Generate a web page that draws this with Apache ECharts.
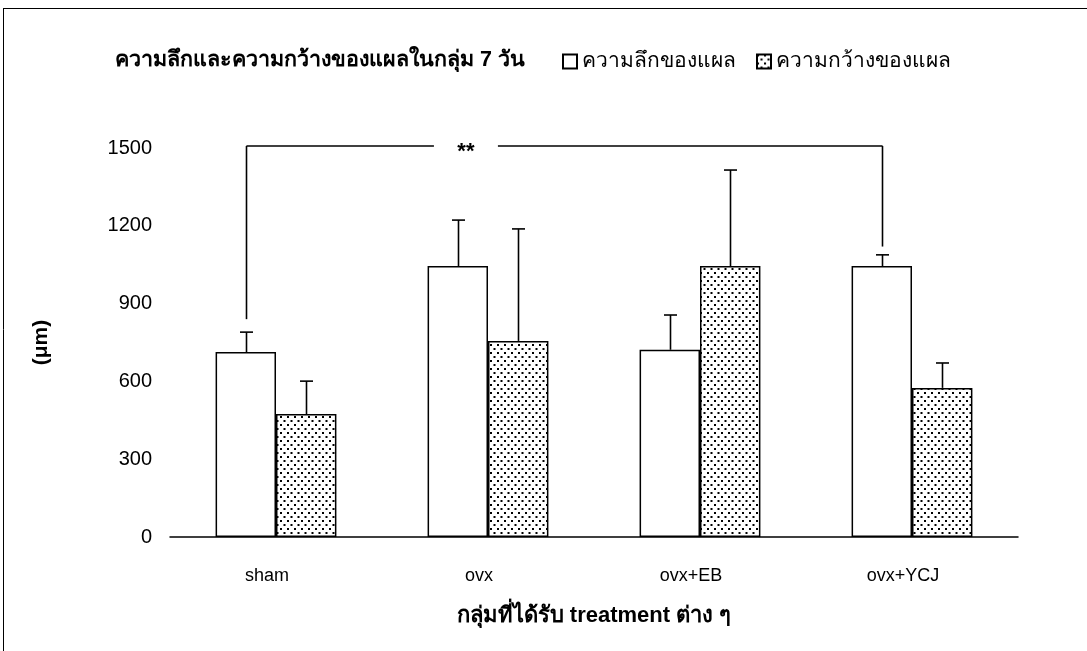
<!DOCTYPE html>
<html>
<head>
<meta charset="utf-8">
<script src="https://cdn.jsdelivr.net/npm/echarts@6/dist/echarts.min.js"></script>
<style>
  html, body { margin: 0; padding: 0; background: #fff; }
  #chart { width: 1087px; height: 651px; }
</style>
</head>
<body>
<div id="chart"></div>
<script>
// data
const categories = ["sham", "ovx", "ovx+EB", "ovx+YCJ"];
const depthName = "ความลึกของแผล";
const widthName = "ความกว้างของแผล";
const depthValues = [713, 1045, 722, 1045];
const depthErr = [77, 177, 134, 43];
const widthValues = [474, 756, 1045, 575];
const widthErr = [127, 432, 370, 96];
const yTicks = [0, 300, 600, 900, 1200, 1500];
// significance bracket: from sham depth to ovx+YCJ depth
const bracket = [0, 840, 3, 1120, 1508];
const bracketLabel = "**";

const FONT = "Liberation Sans, Arial, sans-serif";

// dotted fill like the print
function dotPattern() {
  const c = document.createElement("canvas");
  c.width = 7; c.height = 8;
  const ctx = c.getContext("2d");
  ctx.fillStyle = "#fff";
  ctx.fillRect(0, 0, 7, 8);
  ctx.fillStyle = "#000";
  ctx.fillRect(0, 0, 2, 2);
  ctx.fillRect(3.5, 4, 2, 2);
  return { image: c, repeat: "repeat" };
}
const dots = dotPattern();

const chart = echarts.init(document.getElementById("chart"));

const BAR_W = 0.285;

function errorBars(values, errs, side) {
  return {
    type: "custom",
    coordinateSystem: "cartesian2d",
    silent: true,
    z: 3,
    data: values.map((v, i) => [i, v, v + errs[i]]),
    encode: { x: 0, y: [1, 2] },
    renderItem: (params, api) => {
      const band = api.size([1, 0])[0];
      const off = side * band * BAR_W / 2;
      const p0 = api.coord([api.value(0), api.value(1)]);
      const p1 = api.coord([api.value(0), api.value(2)]);
      const x = Math.round(p0[0] + off) + 0.5;
      const style = { stroke: "#000", lineWidth: 1.6 };
      return {
        type: "group",
        children: [
          { type: "line", shape: { x1: x, y1: p0[1], x2: x, y2: p1[1] }, style },
          { type: "line", shape: { x1: x - 6.5, y1: p1[1], x2: x + 6.5, y2: p1[1] }, style }
        ]
      };
    }
  };
}

const option = {
  backgroundColor: "#fff",
  animation: false,
  textStyle: { fontFamily: FONT, color: "#000" },
  title: {
    text: "ความลึกและความกว้างของแผลในกลุ่ม 7 วัน",
    left: 110,
    top: 44,
    textStyle: { fontFamily: FONT, fontSize: 21.5, fontWeight: "bold", color: "#000" }
  },
  legend: {
    left: 557,
    top: 46,
    itemWidth: 14,
    itemHeight: 14,
    itemGap: 20,
    icon: "rect",
    textStyle: { fontFamily: FONT, fontSize: 21, color: "#000" },
    data: [depthName, widthName]
  },
  grid: { left: 170, right: 69, top: 148, bottom: 114 },
  xAxis: {
    type: "category",
    data: categories,
    axisLine: { lineStyle: { color: "#000", width: 1.5 } },
    axisTick: { show: false },
    axisLabel: { color: "#000", fontSize: 18, fontFamily: FONT, margin: 30, padding: [0, 18, 0, 0] },
    name: "กลุ่มที่ได้รับ treatment ต่าง ๆ",
    nameLocation: "middle",
    nameGap: 68,
    nameTextStyle: { color: "#000", fontSize: 22, fontWeight: "bold", fontFamily: FONT }
  },
  yAxis: {
    type: "value",
    min: yTicks[0],
    max: yTicks[yTicks.length - 1],
    interval: 300,
    axisLine: { show: false },
    axisTick: { show: false },
    splitLine: { show: false },
    axisLabel: { color: "#000", fontSize: 20, fontFamily: FONT, margin: 18, formatter: (v) => String(v) },
    name: "(μm)",
    nameLocation: "middle",
    nameGap: 118,
    nameRotate: 90,
    nameTextStyle: { color: "#000", fontSize: 21, fontWeight: "bold", fontFamily: FONT }
  },
  series: [
    {
      name: depthName,
      type: "bar",
      data: depthValues,
      barWidth: (BAR_W * 100) + "%",
      barGap: "0%",
      itemStyle: { color: "#fff", borderColor: "#000", borderWidth: 1.5 }
    },
    {
      name: widthName,
      type: "bar",
      data: widthValues,
      barWidth: (BAR_W * 100) + "%",
      barGap: "0%",
      itemStyle: { color: dots, borderColor: "#000", borderWidth: 1.5 }
    },
    errorBars(depthValues, depthErr, -1),
    errorBars(widthValues, widthErr, 1),
    {
      type: "custom",
      coordinateSystem: "cartesian2d",
      silent: true,
      clip: false,
      z: 4,
      data: [bracket],
      encode: { x: [0, 2], y: [1, 3, 4] },
      renderItem: (params, api) => {
        const band = api.size([1, 0])[0];
        const off = -band * BAR_W / 2;
        const a = api.coord([api.value(0), api.value(1)]);
        const b = api.coord([api.value(2), api.value(3)]);
        const top = api.coord([api.value(0), api.value(4)])[1];
        const xl = Math.round(a[0] + off) + 0.5;
        const xr = Math.round(b[0] + off) + 0.5;
        const xs = xl + (xr - xl) * 0.345;
        const gap = 32;
        const style = { stroke: "#000", lineWidth: 1.6 };
        return {
          type: "group",
          children: [
            { type: "line", shape: { x1: xl, y1: a[1], x2: xl, y2: top }, style },
            { type: "line", shape: { x1: xl, y1: top, x2: xs - gap, y2: top }, style },
            { type: "line", shape: { x1: xs + gap, y1: top, x2: xr, y2: top }, style },
            { type: "line", shape: { x1: xr, y1: top, x2: xr, y2: b[1] }, style },
            {
              type: "text",
              x: xs, y: top + 6,
              style: {
                text: bracketLabel, fill: "#000", align: "center", verticalAlign: "middle",
                fontSize: 22, fontWeight: "bold", fontFamily: FONT
              }
            }
          ]
        };
      }
    }
  ],
  graphic: [
    { type: "line", shape: { x1: 3, y1: 8.5, x2: 1087, y2: 8.5 }, style: { stroke: "#000", lineWidth: 1 } },
    { type: "line", shape: { x1: 3.5, y1: 8, x2: 3.5, y2: 651 }, style: { stroke: "#000", lineWidth: 1 } }
  ]
};

chart.setOption(option);
</script>
</body>
</html>
